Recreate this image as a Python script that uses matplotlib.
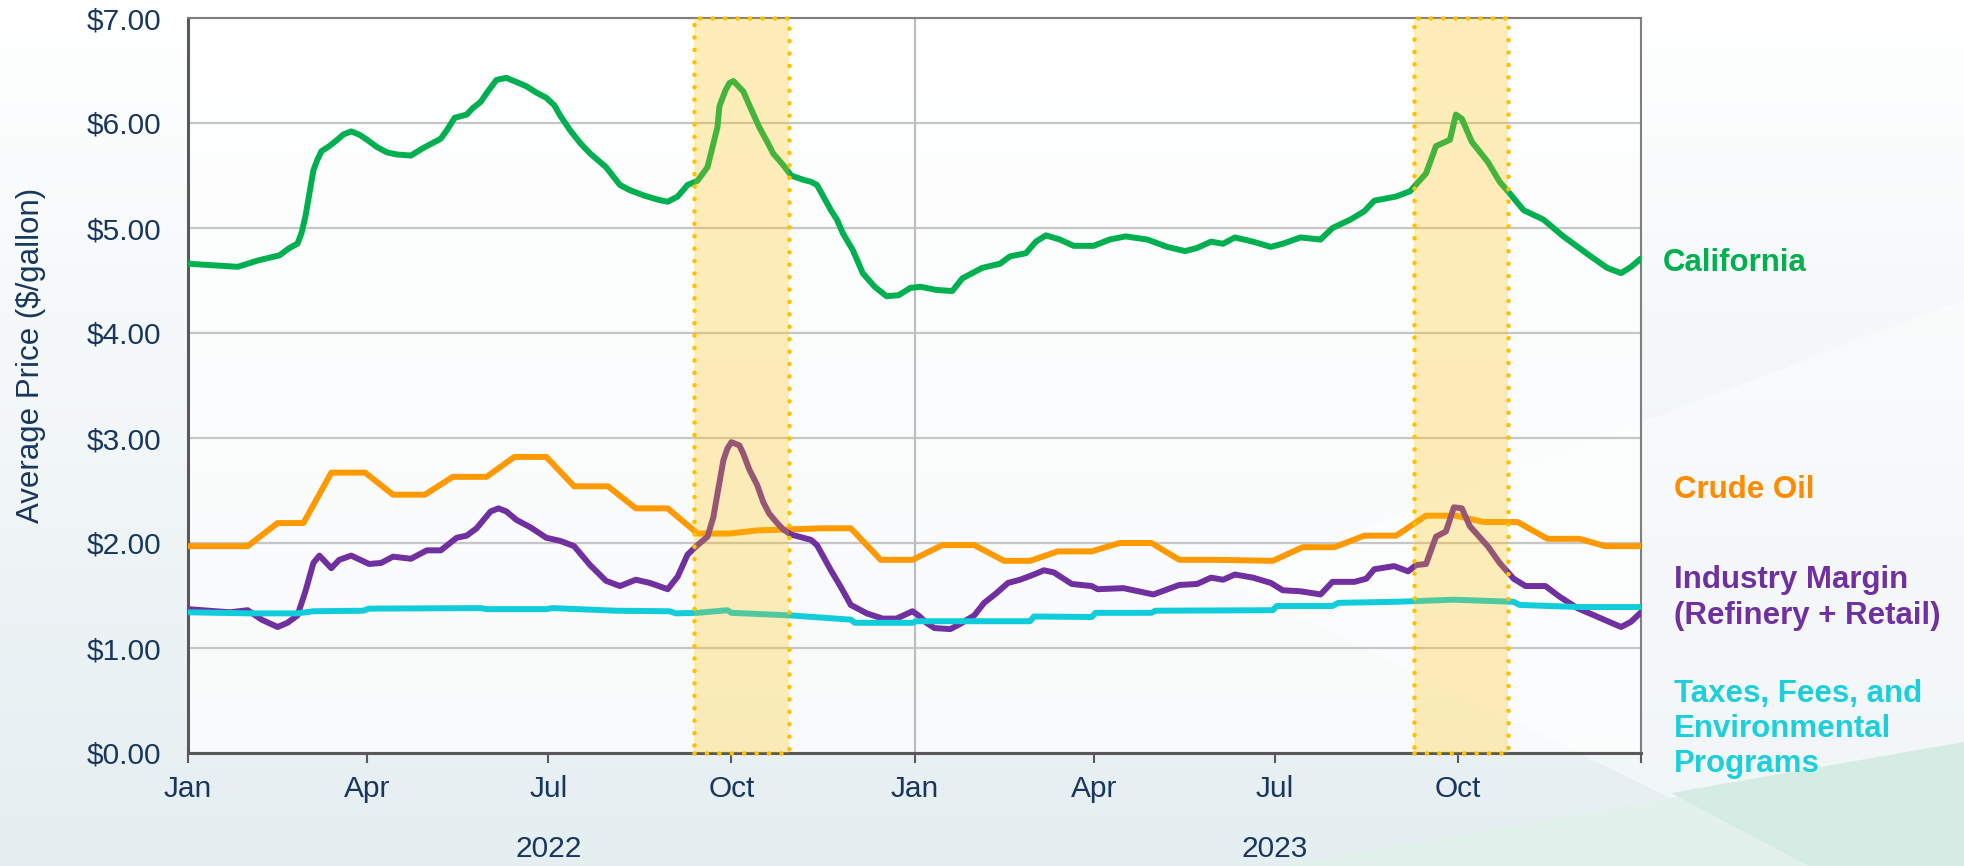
import numpy as np
import pandas as pd
import matplotlib
matplotlib.use('Agg')
import matplotlib.pyplot as plt
import matplotlib.dates as mdates
from matplotlib.patches import Rectangle, Polygon

plt.rcParams['font.family'] = ['Liberation Sans', 'DejaVu Sans']

START = pd.Timestamp('2022-01-01')

# days since 2022-01-01 and $/gallon
ca_days = [0, 25, 35, 46, 51, 55, 57, 59, 61, 63, 65, 67, 71, 75, 78, 82, 86, 90, 95, 100, 105,
           112, 118, 127, 130, 134, 140, 143, 147, 151, 155, 160, 165, 170, 175, 180, 184, 187,
           192, 197, 202, 210, 217, 222, 229, 236, 241, 246, 251, 256, 261, 266, 267, 270, 272,
           274, 279, 282, 287, 291, 294, 299, 303, 309, 313, 316, 323, 326, 329, 334, 339, 345,
           351, 357, 363, 368, 376, 384, 389, 399, 408, 413, 421, 426, 431, 438, 445, 455, 463,
           471, 482, 492, 501, 507, 514, 520, 526, 535, 544, 550, 559, 569, 575, 584, 591, 596,
           607, 614, 622, 627, 634, 637, 640, 645, 653, 659, 664, 671, 681, 691, 704, 713, 720,
           725, 730]
ca_vals = [4.66, 4.63, 4.69, 4.74, 4.81, 4.85, 4.95, 5.11, 5.33, 5.55, 5.65, 5.73, 5.78, 5.84,
           5.89, 5.92, 5.89, 5.84, 5.77, 5.72, 5.70, 5.69, 5.76, 5.85, 5.93, 6.05, 6.08, 6.14,
           6.20, 6.31, 6.41, 6.43, 6.39, 6.35, 6.29, 6.24, 6.17, 6.07, 5.93, 5.81, 5.71, 5.58,
           5.41, 5.36, 5.31, 5.27, 5.25, 5.30, 5.41, 5.45, 5.58, 5.96, 6.16, 6.31, 6.38, 6.40,
           6.30, 6.17, 5.96, 5.82, 5.71, 5.60, 5.50, 5.46, 5.44, 5.41, 5.17, 5.08, 4.95, 4.79,
           4.57, 4.44, 4.35, 4.36, 4.43, 4.44, 4.41, 4.40, 4.52, 4.62, 4.66, 4.73, 4.76, 4.87,
           4.93, 4.89, 4.83, 4.83, 4.89, 4.92, 4.89, 4.82, 4.78, 4.81, 4.87, 4.85, 4.91, 4.87,
           4.82, 4.85, 4.91, 4.89, 5.00, 5.08, 5.16, 5.26, 5.30, 5.35, 5.52, 5.78, 5.84, 6.08,
           6.04, 5.82, 5.63, 5.44, 5.33, 5.17, 5.08, 4.92, 4.74, 4.62, 4.57, 4.63, 4.71]

crude_days = [0, 30, 45, 58, 72, 89, 103, 119, 133, 150, 164, 180, 194, 211, 225, 241, 256, 272,
              286, 303, 318, 333, 348, 364, 379, 395, 410, 423, 437, 454, 468, 484, 498, 515,
              545, 560, 576, 591, 607, 622, 637, 651, 668, 683, 699, 712, 730]
crude_vals = [1.97, 1.97, 2.19, 2.19, 2.67, 2.67, 2.46, 2.46, 2.63, 2.63, 2.82, 2.82, 2.54, 2.54,
              2.33, 2.33, 2.09, 2.09, 2.12, 2.13, 2.14, 2.14, 1.84, 1.84, 1.98, 1.98, 1.83, 1.83,
              1.92, 1.92, 2.00, 2.00, 1.84, 1.84, 1.83, 1.96, 1.96, 2.07, 2.07, 2.26, 2.26, 2.20,
              2.20, 2.04, 2.04, 1.97, 1.97]

margin_days = [0, 21, 30, 37, 45, 50, 55, 59, 63, 66, 72, 76, 82, 91, 97, 103, 112, 120, 127,
               135, 140, 145, 152, 156, 160, 165, 172, 180, 187, 194, 202, 210, 217, 225, 232,
               241, 246, 251, 256, 261, 264, 266, 269, 271, 273, 277, 279, 282, 286, 289, 292,
               296, 299, 303, 313, 316, 323, 328, 333, 341, 349, 356, 364, 367, 371, 375, 383,
               388, 395, 400, 406, 412, 418, 425, 430, 435, 444, 454, 457, 470, 485, 498, 507,
               514, 520, 526, 535, 544, 550, 559, 569, 575, 586, 592, 596, 606, 613, 617, 622,
               627, 632, 636, 640, 644, 653, 659, 666, 672, 682, 689, 698, 709, 720, 725, 730]
margin_vals = [1.37, 1.34, 1.36, 1.27, 1.20, 1.24, 1.31, 1.54, 1.81, 1.88, 1.76, 1.84, 1.88,
               1.80, 1.81, 1.87, 1.85, 1.93, 1.93, 2.05, 2.07, 2.14, 2.30, 2.33, 2.30, 2.22, 2.15,
               2.05, 2.02, 1.97, 1.79, 1.64, 1.59, 1.65, 1.62, 1.56, 1.68, 1.89, 1.98, 2.06, 2.25,
               2.47, 2.79, 2.90, 2.96, 2.93, 2.85, 2.70, 2.55, 2.39, 2.28, 2.19, 2.13, 2.08, 2.03,
               1.98, 1.74, 1.58, 1.41, 1.33, 1.28, 1.28, 1.35, 1.31, 1.24, 1.19, 1.18, 1.23, 1.31,
               1.43, 1.52, 1.62, 1.65, 1.70, 1.74, 1.72, 1.61, 1.59, 1.56, 1.57, 1.51, 1.60, 1.61,
               1.67, 1.65, 1.70, 1.67, 1.62, 1.55, 1.54, 1.51, 1.63, 1.63, 1.66, 1.75, 1.78, 1.73,
               1.79, 1.80, 2.06, 2.11, 2.34, 2.33, 2.16, 1.97, 1.81, 1.66, 1.59, 1.59, 1.49, 1.38,
               1.29, 1.20, 1.25, 1.34]

tax_days = [0, 30, 55, 63, 88, 91, 147, 150, 180, 183, 215, 242, 245, 256, 271, 273, 303, 333,
            335, 364, 366, 423, 425, 454, 456, 484, 486, 545, 547, 575, 578, 607, 636, 666, 669,
            699, 730]
tax_vals = [1.34, 1.33, 1.33, 1.35, 1.355, 1.375, 1.38, 1.37, 1.37, 1.38, 1.355, 1.35, 1.33,
            1.335, 1.36, 1.335, 1.31, 1.27, 1.24, 1.24, 1.255, 1.255, 1.30, 1.295, 1.335, 1.335,
            1.355, 1.36, 1.40, 1.40, 1.43, 1.44, 1.46, 1.44, 1.41, 1.39, 1.39]

bands = [('2022-09-12', '2022-10-30'), ('2023-09-09', '2023-10-26')]

tick_dates = ['2022-01-01', '2022-04-01', '2022-07-01', '2022-10-01', '2023-01-01',
              '2023-04-01', '2023-07-01', '2023-10-01', '2024-01-01']
tick_labels = ['Jan', 'Apr', 'Jul', 'Oct', 'Jan', 'Apr', 'Jul', 'Oct', '']
years = [('2022', '2022-07-01'), ('2023', '2023-07-01')]

NAVY = '#17375E'


def to_dates(days):
    return START + pd.to_timedelta(days, unit='D')


W, H = 1964, 866
fig = plt.figure(figsize=(W / 100, H / 100), dpi=100)

# background: soft vertical gradient plus the slide's pale wedges at the bottom right
bg = fig.add_axes([0, 0, 1, 1], zorder=-10)
top = np.array([1.0, 1.0, 1.0])
bot = np.array([229, 238, 241]) / 255
t = np.linspace(0, 1, 256)[:, None]
grad = top * (1 - t) + bot * t
bg.imshow(np.repeat(grad[:, None, :], 2, axis=1), aspect='auto', extent=[0, W, H, 0])
bg.add_patch(Polygon([(1226, 580), (W, 300), (W, H), (1809, H)], closed=True,
                     color='white', alpha=0.45, lw=0))
bg.add_patch(Polygon([(1280, H), (W, 747), (W, H)], closed=True, color='#E1F1EC', lw=0))
bg.add_patch(Polygon([(1671, 793), (W, 742), (W, H), (1809, H)], closed=True,
                     color='#D4ECE4', lw=0))
bg.set_xlim(0, W)
bg.set_ylim(H, 0)
bg.axis('off')

ax = fig.add_axes([188 / W, 1 - 753 / H, (1641 - 188) / W, (753 - 18) / H])
ax.set_facecolor((1, 1, 1, 0.72))

style = dict(lw=4.3, zorder=3, solid_joinstyle='round', solid_capstyle='round')
ax.plot(to_dates(ca_days), ca_vals, color='#00B050', **style)
ax.plot(to_dates(crude_days), crude_vals, color='#FF9900', **style)
ax.plot(to_dates(margin_days), margin_vals, color='#7030A0', **style)
ax.plot(to_dates(tax_days), tax_vals, color='#11CDDB', **style)

for a, b in bands:
    x0, x1 = mdates.date2num(pd.Timestamp(a)), mdates.date2num(pd.Timestamp(b))
    ax.axvspan(x0, x1, color='#FFC000', alpha=0.27, lw=0, zorder=4)
    ax.add_patch(Rectangle((x0, 0), x1 - x0, 7, fill=False, edgecolor='#FFC000', lw=3.3,
                           linestyle=(0, (0.01, 2.7)), capstyle='round', zorder=5,
                           clip_on=False))

ax.set_xlim(START, pd.Timestamp('2024-01-01'))
ax.set_ylim(0, 7)
ax.set_yticks(np.arange(0, 8))
ax.set_yticklabels([f'${v:.2f}' for v in range(8)], fontsize=21.5, color=NAVY)
ax.set_xticks(pd.to_datetime(tick_dates))
ax.set_xticklabels(tick_labels, fontsize=21.5, color=NAVY)

ax.set_axisbelow(True)
ax.yaxis.grid(True, color='#C6C6C6', lw=1.6)
ax.axvline(pd.Timestamp('2023-01-01'), color='#BDBDBD', lw=1.6, zorder=1)

ax.tick_params(axis='y', length=0, pad=19)
ax.tick_params(axis='x', length=7, width=1.5, color='#595959', pad=9)
for side in ['top', 'right']:
    ax.spines[side].set_color('#7F7F7F')
    ax.spines[side].set_linewidth(1.5)
for side in ['left', 'bottom']:
    ax.spines[side].set_color('#595959')
    ax.spines[side].set_linewidth(2.2)

for label, when in years:
    ax.text(pd.Timestamp(when), -0.1306, label, transform=ax.get_xaxis_transform(),
            ha='center', va='center', fontsize=21.5, color=NAVY)

fig.text(31 / W, 1 - 355 / H, 'Average Price ($/gallon)', rotation=90, ha='center',
         va='center', fontsize=22.5, color=NAVY)

fig.text(1663 / W, 1 - 263 / H, 'California', fontsize=22.5, fontweight='bold',
         color='#00B050', ha='left', va='center')
fig.text(1674 / W, 1 - 490 / H, 'Crude Oil', fontsize=22.5, fontweight='bold',
         color='#FF8C00', ha='left', va='center')
fig.text(1674 / W, 1 - 598 / H, 'Industry Margin\n(Refinery + Retail)', fontsize=22.5,
         fontweight='bold', color='#7030A0', ha='left', va='center', linespacing=1.22)
fig.text(1674 / W, 1 - 729 / H, 'Taxes, Fees, and\nEnvironmental\nPrograms', fontsize=22.5,
         fontweight='bold', color='#1CCFDA', ha='left', va='center', linespacing=1.22)

fig.savefig('out.png', dpi=100)
